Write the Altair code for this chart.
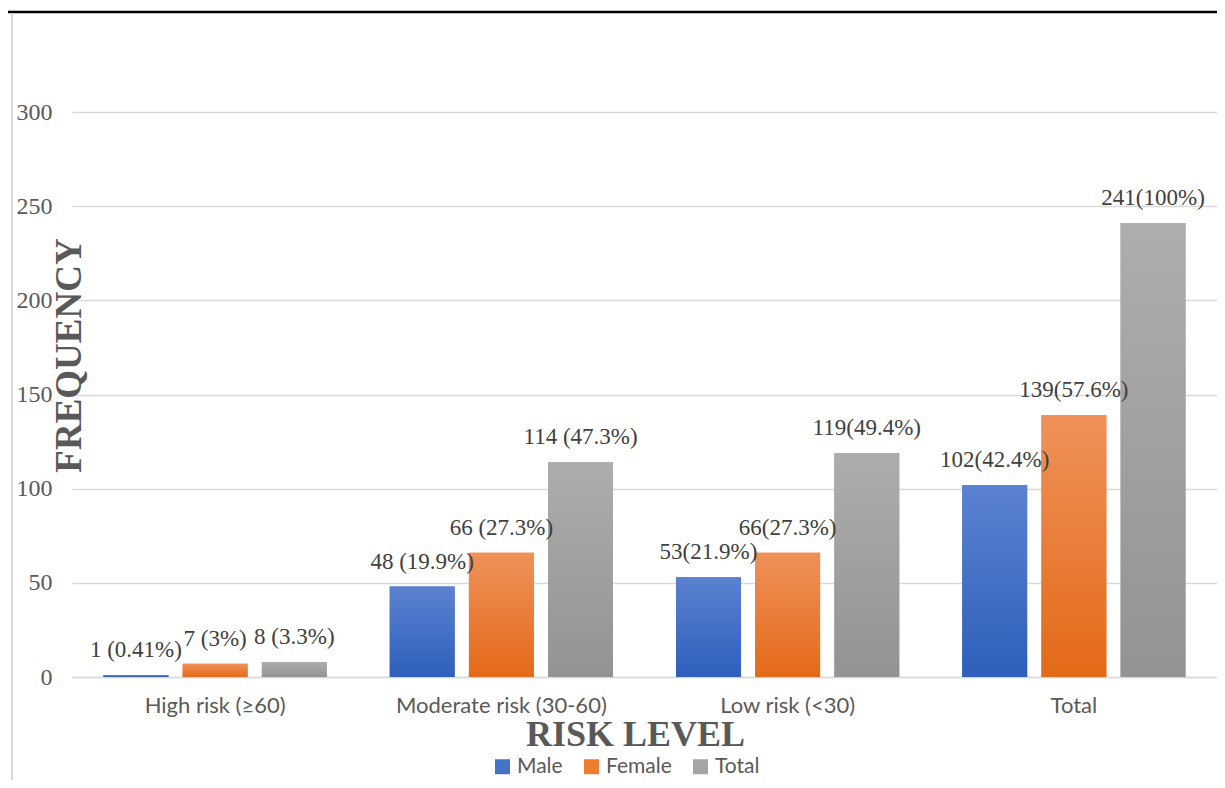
import altair as alt
import pandas as pd

categories = ["High risk (≥60)", "Moderate risk (30-60)", "Low risk (<30)", "Total"]
series = ["Male", "Female", "Total"]
male = [1, 48, 53, 102]
female = [7, 66, 66, 139]
total = [8, 114, 119, 241]
male_labels = ["1 (0.41%)", "48 (19.9%)", "53(21.9%)", "102(42.4%)"]
female_labels = ["7 (3%)", "66 (27.3%)", "66(27.3%)", "139(57.6%)"]
total_labels = ["8 (3.3%)", "114 (47.3%)", "119(49.4%)", "241(100%)"]
y_ticks = [0, 50, 100, 150, 200, 250, 300]

solid = ["#4472C4", "#ED7D31", "#A5A5A5"]
grads = {
    "Male": ("#5B82D0", "#2E5FBB"),
    "Female": ("#F0915A", "#E36A18"),
    "Total": ("#ADADAD", "#939393"),
}

rows = []
for vals, labs, s in [(male, male_labels, "Male"), (female, female_labels, "Female"), (total, total_labels, "Total")]:
    for c, v, l in zip(categories, vals, labs):
        rows.append({"category": c, "series": s, "value": v, "label": l})
df = pd.DataFrame(rows)

W, H = 1145, 659

x_enc = alt.X(
    "category:N",
    sort=categories,
    scale=alt.Scale(domain=categories, paddingInner=0.22, paddingOuter=0.11),
    axis=alt.Axis(
        title="RISK LEVEL",
        labelAngle=0,
        labelLimit=0,
        labelFont="Lato",
        labelFontSize=22,
        labelColor="#595959",
        labelPadding=18,
        ticks=False,
        domainColor="#D9D9D9",
        domainWidth=1.5,
        titleFont="Liberation Serif",
        titleFontSize=36,
        titleFontWeight="bold",
        titleColor="#595959",
        titleX=563,
        titleY=57,
        titleBaseline="middle",
        titleAlign="center",
    ),
)
xo_enc = alt.XOffset(
    "series:N",
    sort=series,
    scale=alt.Scale(domain=series, paddingInner=0.18, paddingOuter=0),
)
y_enc = alt.Y(
    "value:Q",
    scale=alt.Scale(domain=[0, 350], nice=False),
    axis=alt.Axis(
        title="FREQUENCY",
        values=y_ticks,
        grid=True,
        gridColor="#D9D9D9",
        gridWidth=1.5,
        domain=False,
        ticks=False,
        labelFont="Liberation Serif",
        labelFontSize=24,
        labelColor="#595959",
        labelPadding=20,
        titleFont="Liberation Serif",
        titleFontSize=37,
        titleFontWeight="bold",
        titleColor="#595959",
        titleAngle=270,
        titleX=-3,
        titleY=337,
        titleBaseline="middle",
        titleAlign="center",
    ),
)

base = alt.Chart(df).encode(x=x_enc, xOffset=xo_enc, y=y_enc)

legend_bars = base.mark_bar().encode(
    color=alt.Color(
        "series:N",
        sort=series,
        scale=alt.Scale(domain=series, range=solid),
        legend=alt.Legend(
            title=None,
            orient="none",
            direction="horizontal",
            legendX=420,
            legendY=738,
            symbolType="square",
            symbolSize=225,
            symbolStrokeWidth=0,
            labelFont="Lato",
            labelFontSize=21,
            labelColor="#595959",
            labelOffset=4,
            columnPadding=18,
        ),
    )
)

grad_layers = []
for s in series:
    top, bot = grads[s]
    grad_layers.append(
        base.transform_filter(alt.datum.series == s).mark_bar(
            color={
                "gradient": "linear",
                "x1": 0, "y1": 0, "x2": 0, "y2": 1,
                "stops": [{"offset": 0, "color": top}, {"offset": 1, "color": bot}],
            }
        )
    )

texts = base.mark_text(
    dy=-25,
    baseline="middle",
    font="Liberation Serif, Times New Roman, serif",
    fontSize=23,
    color="#404040",
).encode(text="label:N")

decor = pd.DataFrame({"d": [0]})
top_rule = alt.Chart(decor).mark_rule(color="black", strokeWidth=2.5).encode(
    x=alt.value(-64), x2=alt.value(W), y=alt.value(-6)
)
left_rule = alt.Chart(decor).mark_rule(color="#D9D9D9", strokeWidth=2).encode(
    x=alt.value(-60), y=alt.value(-5), y2=alt.value(790)
)

chart = alt.layer(top_rule, left_rule, legend_bars, *grad_layers, texts).properties(
    width=W,
    height=H,
    padding={"left": 64, "top": 10, "right": 0, "bottom": 103},
    autosize=alt.AutoSizeParams(type="none"),
    background="white",
).configure_view(stroke=None)

chart.save("out.html", embed_options={"renderer": "svg", "actions": False})
